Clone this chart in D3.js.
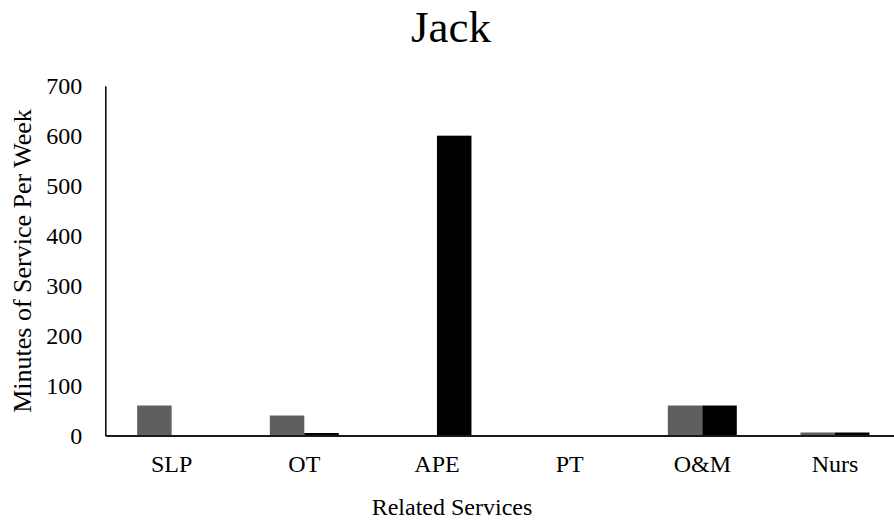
<!DOCTYPE html>
<html>
<head>
<meta charset="utf-8">
<script src="https://cdn.jsdelivr.net/npm/d3@7"></script>
<style>
  html, body { margin: 0; padding: 0; background: #fff; }
  svg { display: block; }
  text { font-family: "Liberation Serif", "Times New Roman", serif; fill: #000; }
</style>
</head>
<body>
<svg id="chart" width="894" height="525"></svg>
<script>
// Related services, minutes per week
const categories = ["SLP", "OT", "APE", "PT", "O&M", "Nurs"];
const seriesNames = ["first", "second"];
const firstValues = [60, 40, 0, 1, 60, 6];
const secondValues = [0, 5, 600, 0, 60, 6];
const yTicks = [0, 100, 200, 300, 400, 500, 600, 700];
const seriesColors = ["#5f5f5f", "#000000"];
const serif = '"Liberation Serif", "Times New Roman", serif';

const rows = categories.map((c, i) => ({
  cat: c,
  vals: [firstValues[i], secondValues[i]]
}));

const svg = d3.select("#chart");
const plotLeft = 105.3, plotRight = 901.3, plotTop = 85.7, plotBottom = 435.5;

const x = d3.scaleBand().domain(categories).range([plotLeft, plotRight]).padding(0);
const bw = x.bandwidth();
const x1 = d3.scaleBand().domain(seriesNames).range([bw * 0.24, bw * 0.76]).padding(0);
const y = d3.scaleLinear().domain([0, 700]).range([plotBottom, plotTop]);

// bars
const groups = svg.append("g").selectAll("g")
  .data(rows).join("g")
  .attr("transform", d => `translate(${x(d.cat)},0)`);

groups.selectAll("rect")
  .data(d => d.vals.map((v, k) => ({ key: seriesNames[k], v, k })))
  .join("rect")
  .attr("x", d => x1(d.key))
  .attr("width", x1.bandwidth())
  .attr("y", d => y(d.v))
  .attr("height", d => plotBottom - y(d.v))
  .attr("fill", d => seriesColors[d.k]);

// y axis
const yAxis = svg.append("g")
  .attr("transform", `translate(${plotLeft},0)`)
  .call(d3.axisLeft(y).tickValues(yTicks).tickSize(0).tickPadding(23));
yAxis.attr("font-family", serif);
yAxis.select(".domain").attr("stroke", "#000").attr("stroke-width", 1.5);
yAxis.selectAll("text")
  .style("font-family", serif)
  .style("font-size", "24px")
  .attr("dy", "0.33em");

// x axis
const xAxis = svg.append("g")
  .attr("transform", `translate(0,${plotBottom})`)
  .call(d3.axisBottom(x).tickSize(0).tickPadding(19));
xAxis.attr("font-family", serif);
xAxis.select(".domain").attr("stroke", "#1a1a1a").attr("stroke-width", 2);
xAxis.selectAll("text")
  .style("font-family", serif)
  .style("font-size", "24px");

// title
svg.append("text")
  .attr("x", 451).attr("y", 42)
  .attr("text-anchor", "middle")
  .style("font-size", "45px")
  .text("Jack");

// axis titles
svg.append("text")
  .attr("x", 452).attr("y", 515)
  .attr("text-anchor", "middle")
  .style("font-size", "24px")
  .text("Related Services");

svg.append("text")
  .attr("transform", "translate(31,261) rotate(-90)")
  .attr("text-anchor", "middle")
  .style("font-size", "26px")
  .text("Minutes of Service Per Week");
</script>
</body>
</html>
